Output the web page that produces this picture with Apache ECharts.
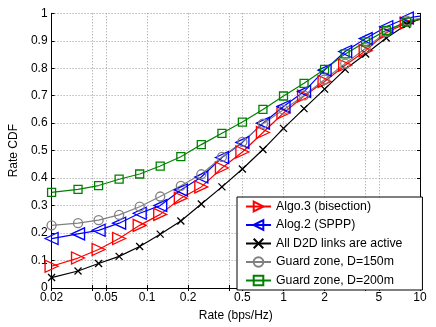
<!DOCTYPE html>
<html>
<head>
<meta charset="utf-8">
<script src="https://cdn.jsdelivr.net/npm/echarts@6/dist/echarts.min.js"></script>
<style>html,body{margin:0;padding:0;background:#fff;}#c{width:436px;height:327px;}</style>
</head>
<body>
<div id="c"></div>
<script>
const rates = [0.02, 0.03125, 0.0442, 0.0625, 0.0884, 0.125, 0.177, 0.25, 0.354, 0.5, 0.707, 1, 1.414, 2, 2.83, 4, 5.66, 8, 10];
const algo3 = [0.079, 0.109, 0.140, 0.180, 0.228, 0.268, 0.327, 0.368, 0.437, 0.495, 0.566, 0.637, 0.699, 0.752, 0.811, 0.864, 0.929, 0.965, 0.978];
const algo2 = [0.180, 0.197, 0.210, 0.236, 0.272, 0.300, 0.357, 0.404, 0.475, 0.530, 0.600, 0.661, 0.715, 0.793, 0.861, 0.908, 0.951, 0.983, 0.99];
const allActive = [0.038, 0.062, 0.089, 0.115, 0.151, 0.196, 0.244, 0.306, 0.368, 0.433, 0.504, 0.581, 0.653, 0.724, 0.796, 0.852, 0.910, 0.959, 0.98];
const guard150 = [0.228, 0.236, 0.247, 0.266, 0.296, 0.333, 0.372, 0.414, 0.477, 0.532, 0.598, 0.649, 0.701, 0.759, 0.817, 0.873, 0.932, 0.973, 0.982];
const guard200 = [0.348, 0.359, 0.373, 0.396, 0.415, 0.444, 0.478, 0.522, 0.563, 0.604, 0.650, 0.699, 0.745, 0.796, 0.852, 0.896, 0.938, 0.968, 0.978];
const xLabelTicks = [0.02, 0.05, 0.1, 0.2, 0.5, 1, 2, 5, 10];
const xGridTicks = [0.02, 0.04, 0.05, 0.1, 0.2, 0.4, 0.5, 1, 2, 4, 5, 10];
const seriesNames = ['Algo.3 (bisection)', 'Alog.2 (SPPP)', 'All D2D links are active', 'Guard zone, D=150m', 'Guard zone, D=200m'];

const font = 'Liberation Sans, Arial, Helvetica, sans-serif';
const crossPath = 'path://M0,0 L10,10 M10,0 L0,10';

function mk(name, vals, color, symbol, size, rotate) {
  return {
    name: name,
    type: 'line',
    data: rates.map((r, i) => {
      const d = {value: [r, vals[i]]};
      if (i === rates.length - 1) d.symbol = 'none';
      return d;
    }),
    symbol: symbol,
    symbolSize: size,
    symbolRotate: rotate || 0,
    showAllSymbol: true,
    lineStyle: {color: color, width: 1.2},
    itemStyle: {color: 'rgba(255,255,255,0)', borderColor: color, borderWidth: 1.3},
    emphasis: {disabled: true},
    animation: false,
    z: 3
  };
}

const chart = echarts.init(document.getElementById('c'), null, {renderer: 'canvas'});
const gridLine = {show: true, lineStyle: {type: [1, 2], color: '#999', width: 1}};
chart.setOption({
  backgroundColor: '#fff',
  animation: false,
  grid: {left: 38.3, right: 16, top: 13.3, bottom: 31.3},
  legend: {
    orient: 'vertical', left: 237, top: 197,
    itemWidth: 25, itemHeight: 12, itemGap: 6.5,
    padding: [3.5, 20, 3.5, 8],
    backgroundColor: '#fff', borderColor: '#000', borderWidth: 1,
    textStyle: {fontSize: 12.3, fontFamily: font, color: '#000'},
    data: seriesNames
  },
  xAxis: [{
    type: 'log', logBase: 10, min: 0.02, max: 10,
    name: 'Rate (bps/Hz)', nameLocation: 'middle', nameGap: 22,
    nameTextStyle: {fontSize: 12, fontFamily: font, color: '#000'},
    axisLine: {show: true, lineStyle: {color: '#000', width: 1}},
    axisTick: {show: true, inside: true, length: 3, customValues: xGridTicks, lineStyle: {color: '#000'}},
    axisLabel: {customValues: xLabelTicks, fontSize: 12, fontFamily: font, color: '#000', margin: 4,
      formatter: v => String(+v.toPrecision(3))},
    splitLine: gridLine,
    minorTick: {show: false}
  }, {
    type: 'log', logBase: 10, min: 0.02, max: 10, position: 'top',
    axisLine: {show: true, lineStyle: {color: '#000', width: 1}},
    axisTick: {show: true, inside: true, length: 3, customValues: xGridTicks, lineStyle: {color: '#000'}},
    axisLabel: {show: false},
    splitLine: {show: false}
  }],
  yAxis: [{
    type: 'value', min: 0, max: 1, interval: 0.1,
    name: 'Rate CDF', nameLocation: 'middle', nameGap: 28,
    nameTextStyle: {fontSize: 12, fontFamily: font, color: '#000'},
    axisLine: {show: true, lineStyle: {color: '#000', width: 1}},
    axisTick: {show: true, inside: true, length: 3, lineStyle: {color: '#000'}},
    axisLabel: {fontSize: 12, fontFamily: font, color: '#000', margin: 4,
      formatter: v => String(+v.toFixed(1))},
    splitLine: gridLine
  }, {
    type: 'value', min: 0, max: 1, interval: 0.1, position: 'right',
    axisLine: {show: true, lineStyle: {color: '#000', width: 1}},
    axisTick: {show: true, inside: true, length: 3, lineStyle: {color: '#000'}},
    axisLabel: {show: false},
    splitLine: {show: false}
  }],
  series: [
    mk(seriesNames[0], algo3, '#ff0000', 'triangle', [12, 13], -90),
    mk(seriesNames[1], algo2, '#0000ff', 'triangle', [12, 13], 90),
    mk(seriesNames[2], allActive, '#000000', crossPath, 7, 0),
    mk(seriesNames[3], guard150, '#808080', 'circle', 9, 0),
    mk(seriesNames[4], guard200, '#008000', 'rect', 8, 0)
  ]
});
</script>
</body>
</html>
